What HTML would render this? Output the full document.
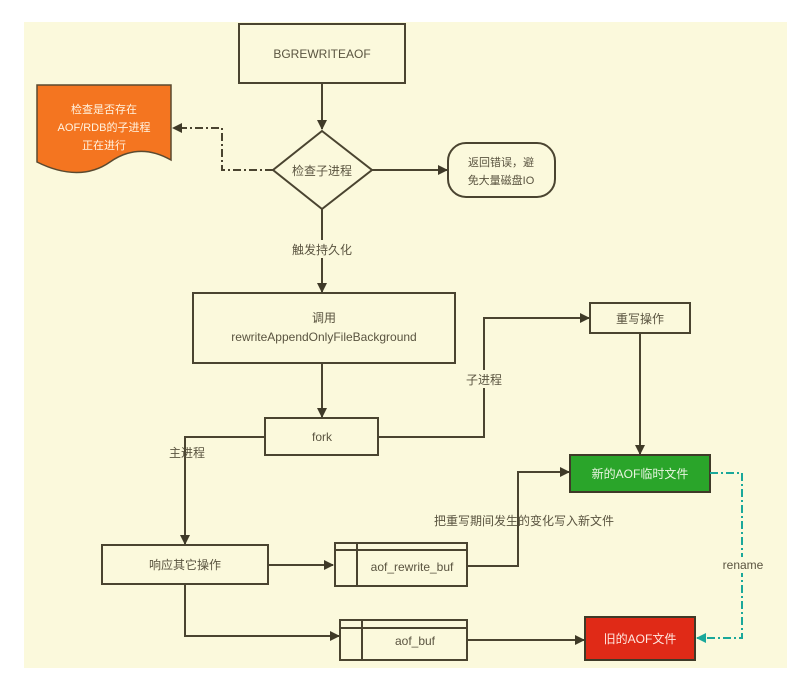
<!DOCTYPE html>
<html><head><meta charset="utf-8"><style>
html,body{margin:0;padding:0;background:#fff;}
svg{display:block;}
text{font-family:"Liberation Sans","Noto Sans CJK SC",sans-serif;font-size:12px;fill:#5a5440;}
</style></head><body>
<svg width="809" height="689" viewBox="0 0 809 689" xmlns="http://www.w3.org/2000/svg">
<defs>
<marker id="a" markerWidth="10" markerHeight="10" refX="9" refY="5" orient="auto" markerUnits="userSpaceOnUse"><path d="M0,0 L10,5 L0,10 z" fill="#3f3a28"/></marker>
<marker id="c" markerWidth="10" markerHeight="10" refX="9" refY="5" orient="auto" markerUnits="userSpaceOnUse"><path d="M0,0 L10,5 L0,10 z" fill="#1aa89a"/></marker>
</defs>
<rect x="24" y="22" width="763" height="646" fill="#fbf9dc"/>
<g stroke="#4a4430" stroke-width="2" fill="none">
<rect x="239" y="24" width="166" height="59" fill="#fbf9dc"/>
<line x1="322" y1="83" x2="322" y2="129" marker-end="url(#a)"/>
<polygon points="322,131 372,170 322,209 273,170" fill="#fbf9dc"/>
<path d="M273,170 H222 V128 H173" stroke-dasharray="8,3,2,3" marker-end="url(#a)"/>
<line x1="372" y1="170" x2="447" y2="170" marker-end="url(#a)"/>
<rect x="448" y="143" width="107" height="54" rx="18" fill="#fbf9dc"/>
<line x1="322" y1="209" x2="322" y2="292" marker-end="url(#a)"/>
<rect x="193" y="293" width="262" height="70" fill="#fbf9dc"/>
<line x1="322" y1="363" x2="322" y2="417" marker-end="url(#a)"/>
<rect x="265" y="418" width="113" height="37" fill="#fbf9dc"/>
<path d="M378,437 H484 V318 H589" marker-end="url(#a)"/>
<rect x="590" y="303" width="100" height="30" fill="#fbf9dc"/>
<line x1="640" y1="333" x2="640" y2="454" marker-end="url(#a)"/>
<path d="M265,437 H185 V544" marker-end="url(#a)"/>
<rect x="102" y="545" width="166" height="39" fill="#fbf9dc"/>
<line x1="268" y1="565" x2="333" y2="565" marker-end="url(#a)"/>
<rect x="335" y="543" width="132" height="43" fill="#fbf9dc"/>
<line x1="357" y1="543" x2="357" y2="586"/>
<line x1="335" y1="550" x2="467" y2="550"/>
<path d="M467,566 H518 V472 H569" marker-end="url(#a)"/>
<path d="M185,584 V636 H339" marker-end="url(#a)"/>
<rect x="340" y="620" width="127" height="40" fill="#fbf9dc"/>
<line x1="362" y1="620" x2="362" y2="660"/>
<line x1="340" y1="628" x2="467" y2="628"/>
<line x1="467" y1="640" x2="584" y2="640" marker-end="url(#a)"/>
</g>
<path d="M37,85 H171 V160 C150,148 130,148 110,162 C90,176 65,176 37,162 Z" fill="#f47520" stroke="#5a4a30" stroke-width="1.5"/>
<rect x="570" y="455" width="140" height="37" fill="#2aa52a" stroke="#3f3a28" stroke-width="2"/>
<rect x="585" y="617" width="110" height="43" fill="#e02a17" stroke="#3f3a28" stroke-width="2"/>
<path d="M710,473 H742 V638 H697" stroke="#1aa89a" stroke-width="2" fill="none" stroke-dasharray="8,3,2,3" marker-end="url(#c)"/>
<g text-anchor="middle">
<text x="322" y="58">BGREWRITEAOF</text>
<text x="104" y="113" style="fill:#fff3e0;font-size:11px">检查是否存在</text>
<text x="104" y="131" style="fill:#fff3e0;font-size:11px">AOF/RDB的子进程</text>
<text x="104" y="149" style="fill:#fff3e0;font-size:11px">正在进行</text>
<text x="322" y="175">检查子进程</text>
<text x="501" y="166" style="font-size:11px">返回错误，避</text>
<text x="501" y="184" style="font-size:11px">免大量磁盘IO</text>
<rect x="284" y="240" width="76" height="18" fill="#fbf9dc"/>
<text x="322" y="254">触发持久化</text>
<text x="324" y="322">调用</text>
<text x="324" y="341">rewriteAppendOnlyFileBackground</text>
<text x="322" y="441">fork</text>
<rect x="466" y="370" width="36" height="18" fill="#fbf9dc"/>
<text x="484" y="384">子进程</text>
<text x="640" y="323">重写操作</text>
<text x="640" y="478" style="fill:#e8f5e0">新的AOF临时文件</text>
<text x="187" y="457">主进程</text>
<text x="185" y="569">响应其它操作</text>
<text x="412" y="571">aof_rewrite_buf</text>
<text x="524" y="525">把重写期间发生的变化写入新文件</text>
<text x="415" y="645">aof_buf</text>
<text x="640" y="643" style="fill:#ffe8e0">旧的AOF文件</text>
<rect x="720" y="557" width="46" height="16" fill="#fbf9dc"/>
<text x="743" y="569">rename</text>
</g>
</svg>
</body></html>
